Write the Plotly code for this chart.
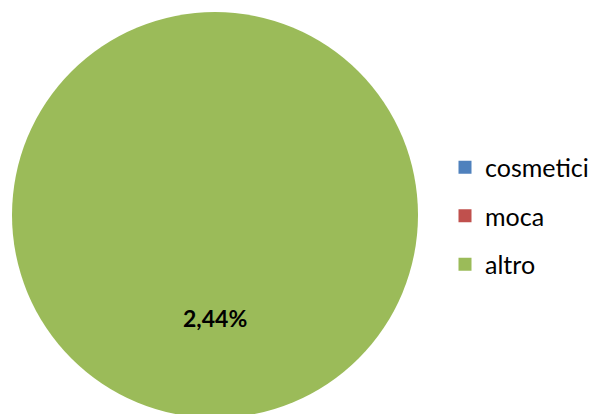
import plotly.graph_objects as go

# Share of each product category
categories = ["cosmetici", "moca", "altro"]
values = [0.0, 0.0, 0.0244]
colors = ["#4F81BD", "#C0504D", "#9BBB59"]

W, H = 598, 422

fig = go.Figure()
fig.add_trace(go.Pie(
    labels=categories,
    values=values,
    marker=dict(colors=colors, line=dict(width=0)),
    textinfo="none",
    sort=False,
    direction="clockwise",
    rotation=0,
    showlegend=False,
    hoverinfo="label+value",
    domain=dict(x=[12 / W, 418 / W], y=[(H - 418) / H, (H - 12) / H]),
))

# Legend entries, one per category (zero-valued slices draw no wedge)
for cat, col in zip(categories, colors):
    fig.add_trace(go.Scatter(
        x=[None], y=[None], mode="markers", name=cat,
        marker=dict(symbol="square", size=13, color=col),
        legendgroup=cat, showlegend=True, hoverinfo="skip",
    ))

# Data label showing the value of the largest category as a percentage
main_val = values[-1]
label_text = ("%.2f%%" % (main_val * 100)).replace(".", ",")
fig.add_annotation(
    x=215 / W, y=(H - 318) / H, xref="paper", yref="paper",
    text="<b>" + label_text + "</b>", showarrow=False,
    font=dict(family="Lato", size=23, color="#000000"),
    xanchor="center", yanchor="middle",
)

fig.update_layout(
    width=W, height=H,
    margin=dict(l=0, r=0, t=0, b=0),
    paper_bgcolor="white", plot_bgcolor="white",
    xaxis=dict(visible=False), yaxis=dict(visible=False),
    legend=dict(
        x=445 / W, y=(H - 216) / H, xanchor="left", yanchor="middle",
        font=dict(family="Lato", size=25, color="#000000"),
        tracegroupgap=13, traceorder="grouped",
        bgcolor="rgba(0,0,0,0)",
    ),
)

fig.write_html(
    "out.html",
    post_script="document.documentElement.style.overflow='hidden';document.body.style.overflow='hidden';",
)
